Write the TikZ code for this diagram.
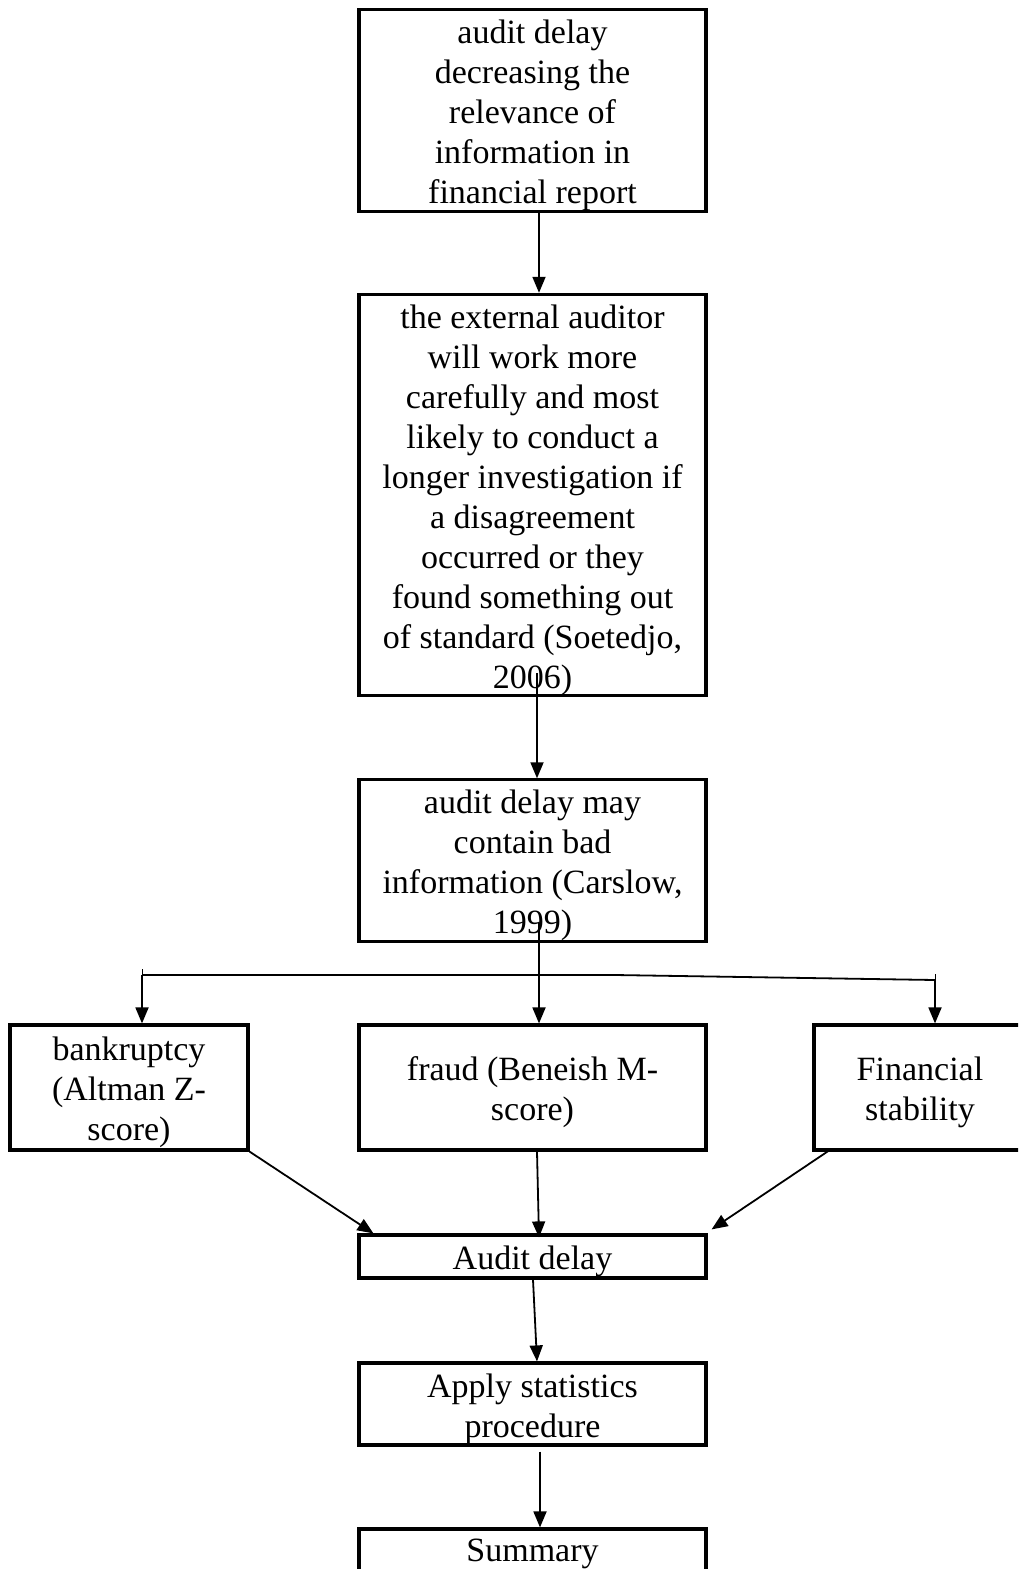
\documentclass[tikz,border=0pt]{standalone}
\usepackage{fontspec}
\setmainfont{Liberation Serif}
\usepackage{tikz}
\usetikzlibrary{arrows.meta}
\newcommand{\topstrut}{\rule{0pt}{17pt}}

\begin{document}
\begin{tikzpicture}[x=0.5pt, y=-0.5pt,
    every node/.style={font=\fontsize{17}{20}\selectfont, align=center},
    box/.style={draw, line width=1.6pt, minimum width=173.5pt, inner sep=0pt},
    arr/.style={line width=0.9pt, -{Triangle[length=8pt,width=6.5pt]}}]
  \useasboundingbox (0,0) rectangle (1018,1569);
  \clip (0,0) rectangle (1018,1569);
  % main column
  \node[box, minimum height=100.5pt] (relev) at (532.5,110.5)
    {\topstrut audit delay\\ decreasing the\\ relevance of\\ information in\\ financial report};
  \node[box, minimum height=200pt] (extaud) at (532.5,495)
    {\topstrut the external auditor\\ will work more\\ carefully and most\\ likely to conduct a\\ longer investigation if\\ a disagreement\\ occurred or they\\ found something out\\ of standard (Soetedjo,\\ 2006)};
  \node[box, minimum height=80.5pt] (badinfo) at (532.5,860.5)
    {\topstrut audit delay may\\ contain bad\\ information (Carslow,\\ 1999)};
  % three factors
  \node[box, minimum width=119pt, minimum height=62.5pt] (bankr) at (129,1087.5)
    {\topstrut bankruptcy\\ (Altman Z-\\ score)};
  \node[box, minimum height=62.5pt] (fraud) at (532.5,1087.5)
    {\topstrut fraud (Beneish M-\\ score)};
  \node[box, minimum width=106pt, minimum height=62.5pt] (stab) at (920,1087.5)
    {\topstrut Financial\\ stability};
  % lower column
  \node[box, minimum height=21.5pt] (delay) at (532.5,1256.5) {\topstrut Audit delay};
  \node[box, minimum height=41pt] (stats) at (532.5,1404)
    {\topstrut Apply statistics\\ procedure};
  \node[box, minimum height=25pt] (summ) at (532.5,1554) {Summary};
  % branch line
  \coordinate (brL) at (142,975);
  \coordinate (brM) at (615,975);
  \coordinate (brR) at (935,980);
  \draw[line width=0.9pt] (brL) -- (brM) -- (brR);
  \draw[line width=0.5pt] ([yshift=3pt]brL) -- (brL);
  \draw[line width=0.5pt] ([yshift=3pt]brR) -- (brR);
  % connectors
  \draw[arr] ([xshift=3.25pt]relev.south) -- ([xshift=3.25pt]extaud.north);
  \draw[arr] ([xshift=2.25pt,yshift=12pt]extaud.south) -- ([xshift=2.25pt]badinfo.north);
  \draw[arr] ([xshift=3.25pt,yshift=10pt]badinfo.south) -- ([xshift=3.25pt]fraud.north);
  \draw[arr] (brL) -- ([xshift=6.5pt]bankr.north);
  \draw[arr] (brR) -- ([xshift=7.5pt]stab.north);
  \draw[arr] (bankr.south east) -- ([xshift=8pt]delay.north west);
  \draw[arr] ([xshift=2.25pt]fraud.south) -- ([xshift=3.25pt,yshift=-2pt]delay.north);
  \draw[arr] ([xshift=9pt,yshift=1pt]stab.south west) -- ([xshift=2pt,yshift=2pt]delay.north east);
  \draw[arr] ([xshift=0.25pt]delay.south) -- ([xshift=2.25pt]stats.north);
  \draw[arr] ([xshift=3.75pt,yshift=-2.5pt]stats.south) -- ([xshift=3.75pt]summ.north);
\end{tikzpicture}
\end{document}
